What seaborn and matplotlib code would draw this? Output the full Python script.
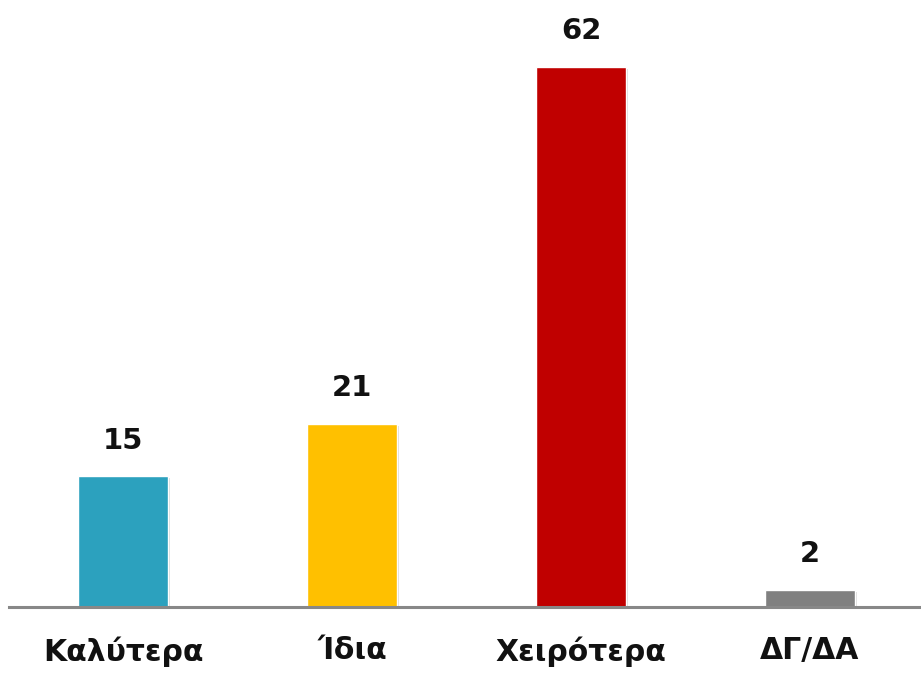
import matplotlib
matplotlib.use("Agg")
import matplotlib.pyplot as plt
import matplotlib.patheffects as pe
import seaborn as sns
import pandas as pd

# data
categories = ["Καλύτερα", "Ίδια", "Χειρότερα", "ΔΓ/ΔΑ"]
values = [15, 21, 62, 2]
colors = ["#2CA1BE", "#FFC000", "#C00000", "#808080"]

df = pd.DataFrame({"cat": categories, "val": values})

sns.set_style("white")
plt.rcParams["font.family"] = ["DejaVu Sans"]

fig = plt.figure(figsize=(9.21, 6.74), dpi=100)
ax = fig.add_axes([9 / 921, 67 / 674, 912 / 921, 607 / 674])

sns.barplot(data=df, x="cat", y="val", hue="cat", palette=colors,
            legend=False, width=0.393, ax=ax, saturation=1)

for bar in ax.patches:
    bar.set_path_effects([pe.SimplePatchShadow(offset=(1.5, -1.5), shadow_rgbFace="#bbbbbb", alpha=0.5),
                          pe.Normal()])

for i, v in enumerate(values):
    ax.annotate(str(v), (i, v), xytext=(0, 20), textcoords="offset points",
                ha="center", va="baseline", fontsize=21, fontweight="bold", color="#111111")

ax.set_xlim(-0.498, 3.485)
ax.set_ylim(0, 69.7)
ax.set_xlabel("")
ax.set_ylabel("")
ax.set_yticks([])
ax.tick_params(axis="x", length=0, pad=21, labelsize=21.5, labelcolor="#111111")
for lbl in ax.get_xticklabels():
    lbl.set_fontweight("bold")

for side in ["top", "right", "left"]:
    ax.spines[side].set_visible(False)
ax.spines["bottom"].set_color("#888888")
ax.spines["bottom"].set_linewidth(2.2)

fig.savefig("out.png", dpi=100)
